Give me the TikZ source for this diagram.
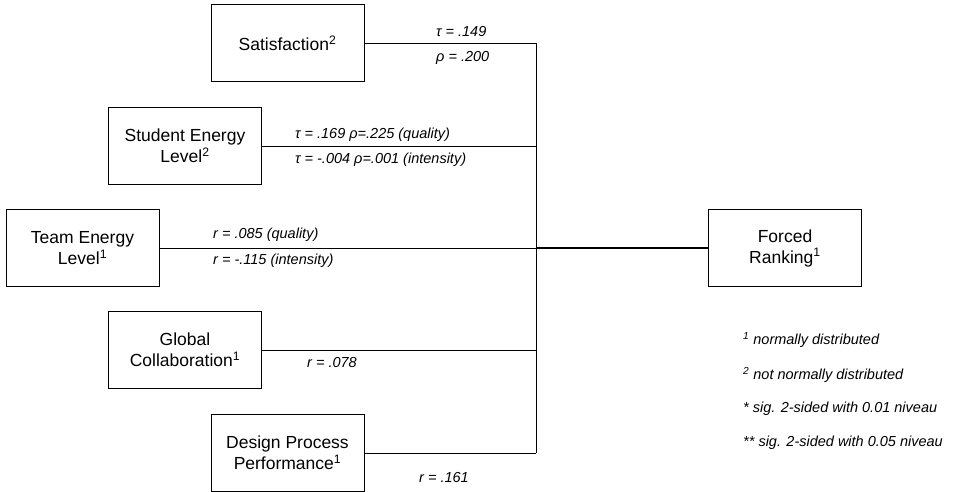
\documentclass[tikz,border=0pt]{standalone}
\usepackage{fontspec}
\setmainfont{Liberation Sans}
\begin{document}
\begin{tikzpicture}[x=1pt,y=-1pt,
  box/.style={draw, line width=0.8pt, minimum width=153pt, minimum height=77pt, inner sep=0pt, align=center, font=\fontsize{17.5}{21}\selectfont},
  lbl/.style={anchor=west, inner sep=0pt, font=\fontsize{14.5}{17}\selectfont\itshape},
  conn/.style={line width=0.8pt},
  main/.style={line width=1.6pt}]
\useasboundingbox (0,0) rectangle (954,492);
\node[box] (sat) at (287.5,43) {Satisfaction\textsuperscript{2}};
\node[box] (stu) at (185,146) {Student Energy\\Level\textsuperscript{2}};
\node[box] (team) at (82.5,248) {Team Energy\\Level\textsuperscript{1}};
\node[box] (glob) at (185,350) {Global\\Collaboration\textsuperscript{1}};
\node[box] (des) at (287.5,453) {Design Process\\Performance\textsuperscript{1}};
\node[box] (fr) at (785,248) {Forced\\Ranking\textsuperscript{1}};
\coordinate (j1) at (536,43);
\coordinate (j2) at (536,146);
\coordinate (j3) at (536,248);
\coordinate (j4) at (536,350);
\coordinate (j5) at (536,453);
\draw[conn] (sat.east) -- (j1) -- (j5);
\draw[conn] (stu.east) -- (j2);
\draw[conn] (team.east) -- (j3);
\draw[conn] (glob.east) -- (j4);
\draw[conn] (des.east) -- (j5);
\draw[main] (j3) -- (fr.west);
\node[lbl] (l1) at (436,32) {τ = .149};
\node[lbl] (l2) at (436,58) {ρ = .200};
\node[lbl] (l3) at (295,135) {τ = .169 ρ=.225 (quality)};
\node[lbl] (l4) at (295,160) {τ = -.004 ρ=.001 (intensity)};
\node[lbl] (l5) at (213,235) {r = .085 (quality)};
\node[lbl] (l6) at (213,261) {r = -.115 (intensity)};
\node[lbl] (l7) at (307,363) {r = .078};
\node[lbl] (l8) at (419,478) {r = .161};
\node[lbl] (n1) at (743,340) {\textsuperscript{1} normally distributed};
\node[lbl] (n2) at (743,375) {\textsuperscript{2} not normally distributed};
\node[lbl] (n3) at (743,409) {* sig. 2-sided with 0.01 niveau};
\node[lbl] (n4) at (743,443) {** sig. 2-sided with 0.05 niveau};
\end{tikzpicture}
\end{document}
